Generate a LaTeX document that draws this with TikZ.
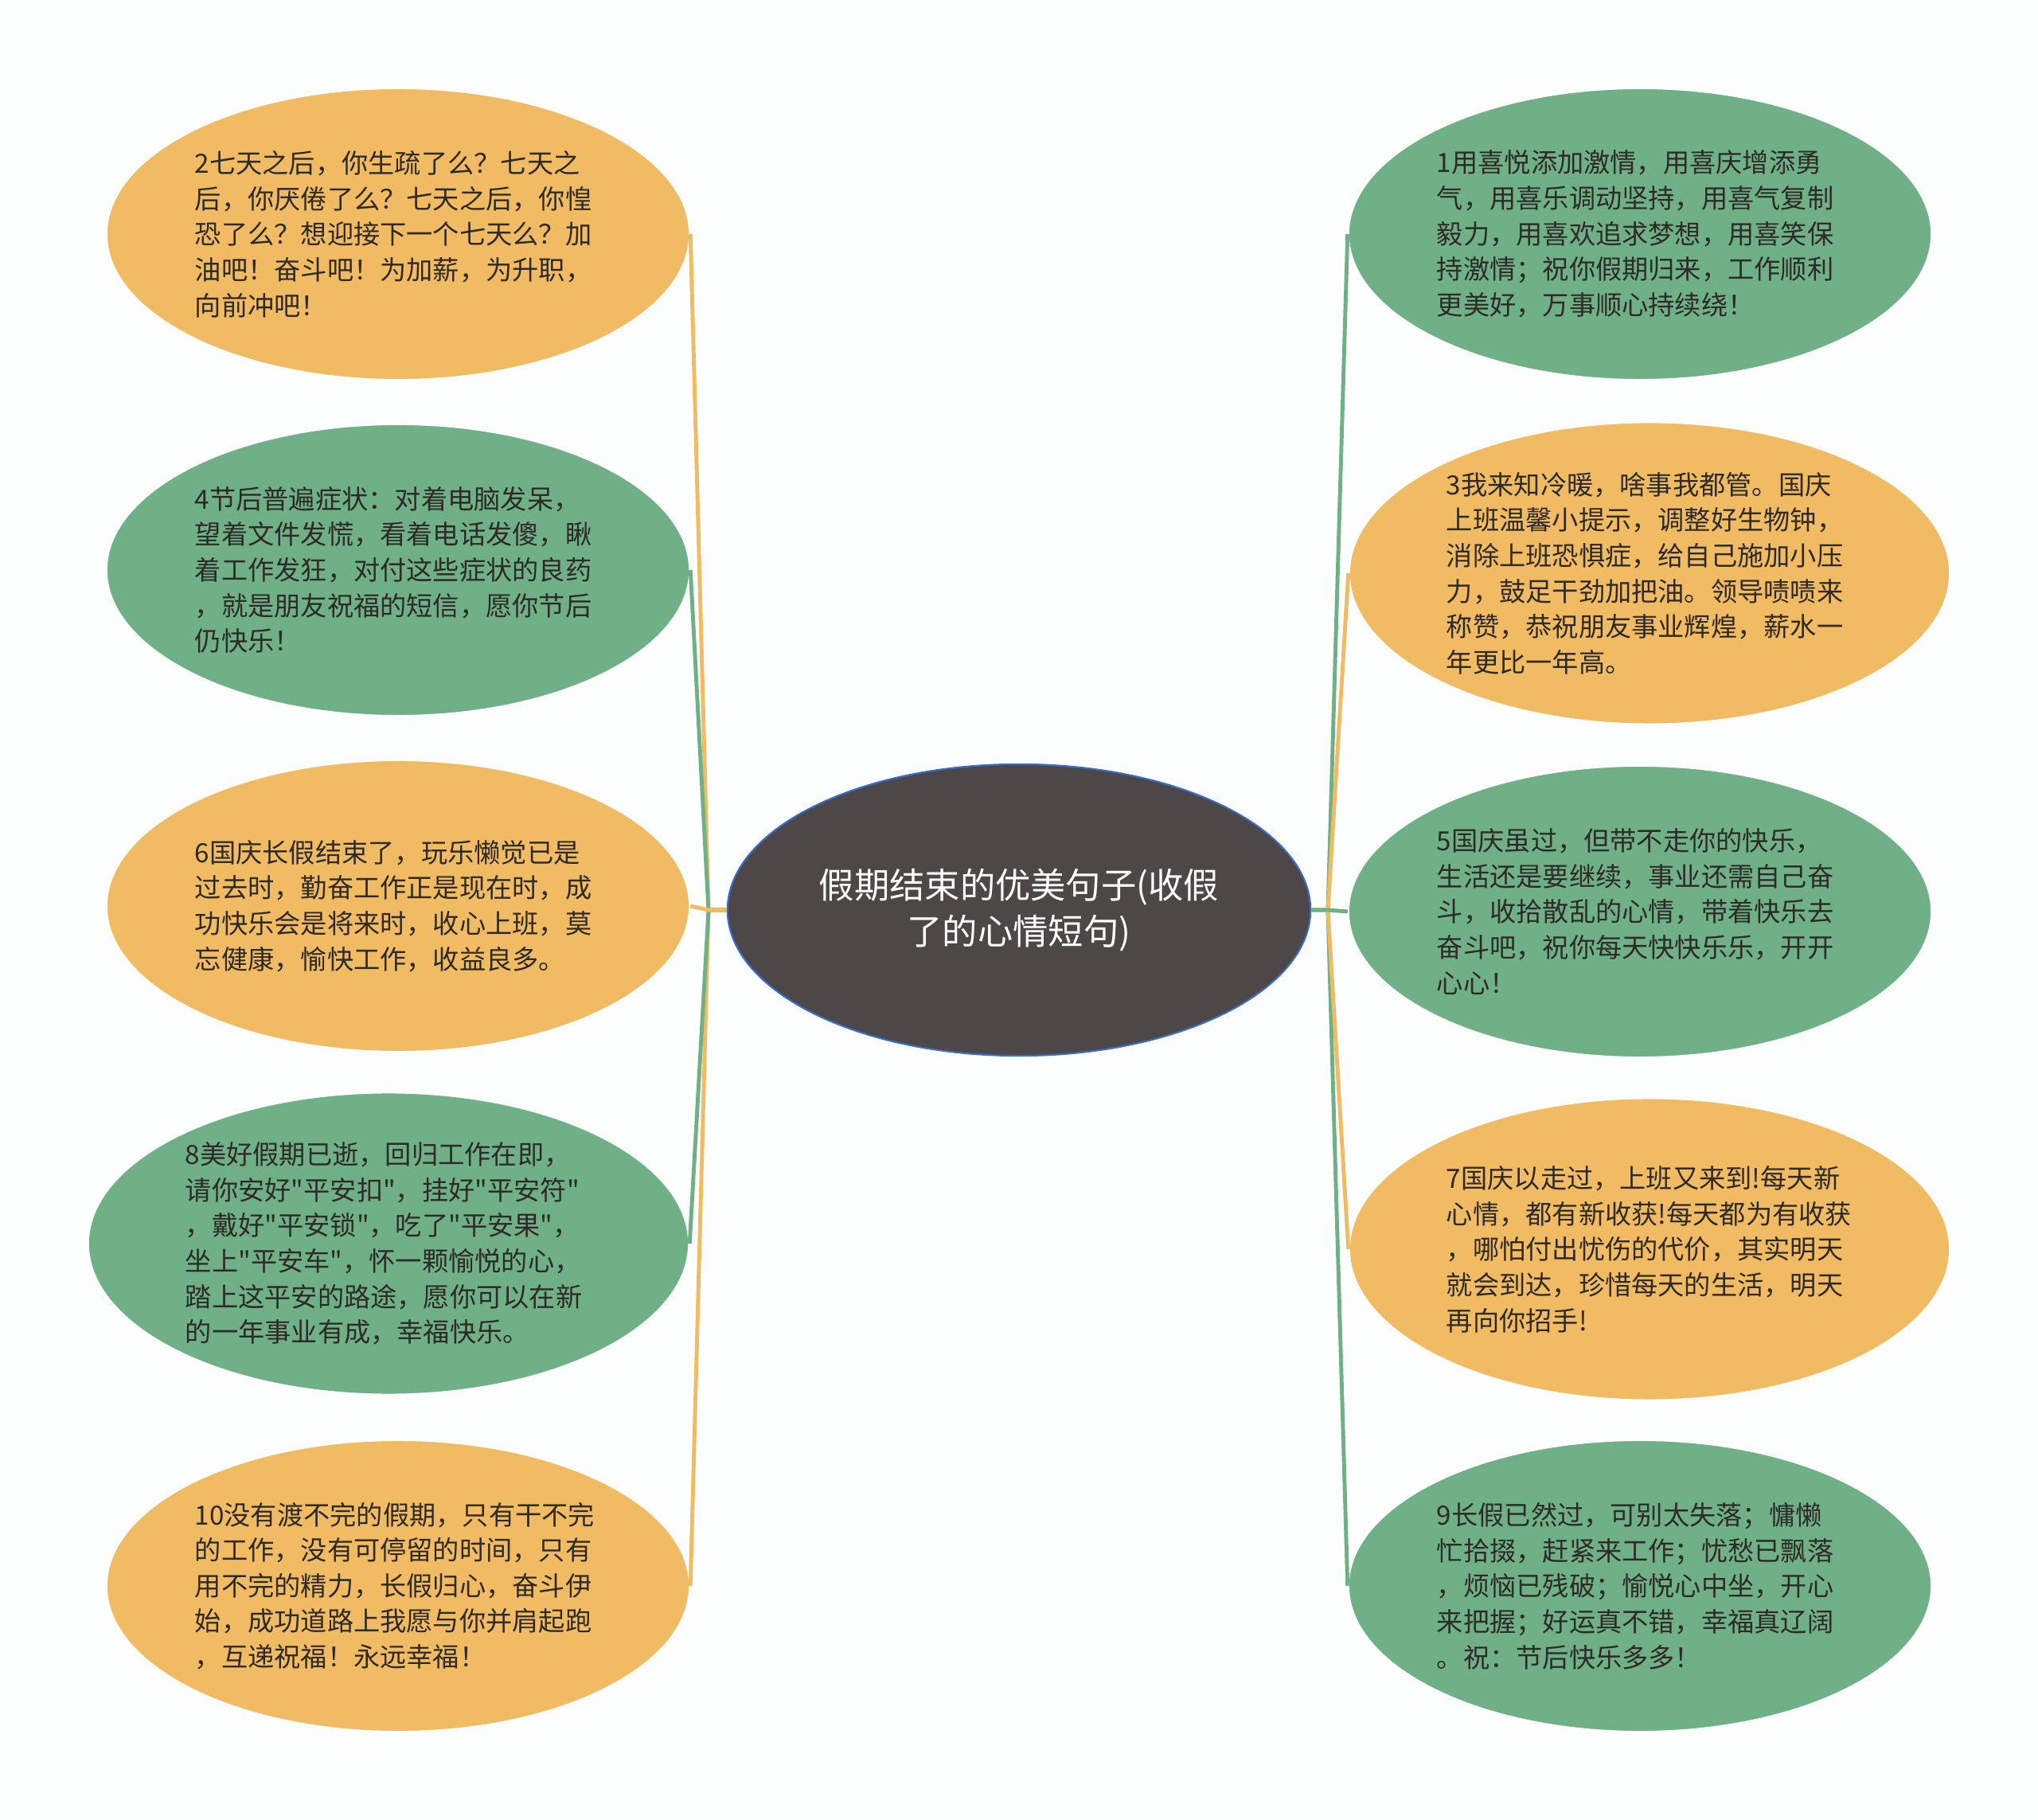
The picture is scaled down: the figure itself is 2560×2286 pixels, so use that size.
\documentclass[tikz,border=0pt]{standalone}
\usepackage{fontspec}
\newfontfamily\cjkfont{Noto Sans CJK SC}
\usetikzlibrary{shapes.geometric}
\definecolor{holidayorange}{RGB}{240,187,98}
\definecolor{holidaygreen}{RGB}{111,176,134}
\definecolor{rootgray}{RGB}{77,71,72}
\definecolor{rootblue}{RGB}{58,108,200}
\definecolor{inktext}{RGB}{45,42,40}
\definecolor{paper}{RGB}{251,254,253}
\tikzset{
  branch/.style={line width=1.4pt},
  root/.style={ellipse,draw=rootblue,line width=0.6pt,fill=rootgray,text=white,
    font=\cjkfont\fontsize{12.6}{16.5}\selectfont,align=center,inner sep=0pt,
    minimum width=7.32cm,minimum height=3.66cm},
  leaf/.style={ellipse,draw=white,line width=0.6pt,text=inktext,
    font=\cjkfont\fontsize{9.45}{12.7}\selectfont,align=left,text width=5.1cm,inner sep=0pt,
    minimum width=7.32cm,minimum height=3.66cm},
  warmleaf/.style={leaf,fill=holidayorange},
  coolleaf/.style={leaf,fill=holidaygreen},
  bigleaf/.style={minimum width=7.54cm,minimum height=3.79cm}
}

\begin{document}
\begin{tikzpicture}[x=0.01cm,y=-0.01cm]
  % 中心主题与左右两列祝福语
  \fill[paper] (0,0) rectangle (2560,2286);
  \useasboundingbox (0,0) rectangle (2560,2286);

  \node[root] (root) at (1280,1143) {假期结束的优美句子(收假\\了的心情短句)};

  \node[warmleaf] (n2) at (500,294) {2七天之后，你生疏了么？七天之\\后，你厌倦了么？七天之后，你惶\\恐了么？想迎接下一个七天么？加\\油吧！奋斗吧！为加薪，为升职，\\向前冲吧！};
  \node[coolleaf] (n4) at (500,716) {4节后普遍症状：对着电脑发呆，\\望着文件发慌，看着电话发傻，瞅\\着工作发狂，对付这些症状的良药\\，就是朋友祝福的短信，愿你节后\\仍快乐！};
  \node[warmleaf] (n6) at (500,1138) {6国庆长假结束了，玩乐懒觉已是\\过去时，勤奋工作正是现在时，成\\功快乐会是将来时，收心上班，莫\\忘健康，愉快工作，收益良多。};
  \node[coolleaf,bigleaf] (n8) at (488,1562) {8美好假期已逝，回归工作在即，\\请你安好"平安扣"，挂好"平安符"\\，戴好"平安锁"，吃了"平安果"，\\坐上"平安车"，怀一颗愉悦的心，\\踏上这平安的路途，愿你可以在新\\的一年事业有成，幸福快乐。};
  \node[warmleaf] (n10) at (500,1992) {10没有渡不完的假期，只有干不完\\的工作，没有可停留的时间，只有\\用不完的精力，长假归心，奋斗伊\\始，成功道路上我愿与你并肩起跑\\，互递祝福！永远幸福！};

  \node[coolleaf] (n1) at (2060,294) {1用喜悦添加激情，用喜庆增添勇\\气，用喜乐调动坚持，用喜气复制\\毅力，用喜欢追求梦想，用喜笑保\\持激情；祝你假期归来，工作顺利\\更美好，万事顺心持续绕！};
  \node[warmleaf,bigleaf] (n3) at (2072,720) {3我来知冷暖，啥事我都管。国庆\\上班温馨小提示，调整好生物钟，\\消除上班恐惧症，给自己施加小压\\力，鼓足干劲加把油。领导啧啧来\\称赞，恭祝朋友事业辉煌，薪水一\\年更比一年高。};
  \node[coolleaf] (n5) at (2060,1145) {5国庆虽过，但带不走你的快乐，\\生活还是要继续，事业还需自己奋\\斗，收拾散乱的心情，带着快乐去\\奋斗吧，祝你每天快快乐乐，开开\\心心！};
  \node[warmleaf,bigleaf] (n7) at (2072,1569) {7国庆以走过，上班又来到!每天新\\心情，都有新收获!每天都为有收获\\，哪怕付出忧伤的代价，其实明天\\就会到达，珍惜每天的生活，明天\\再向你招手!};
  \node[coolleaf] (n9) at (2060,1992) {9长假已然过，可别太失落；慵懒\\忙拾掇，赶紧来工作；忧愁已飘落\\，烦恼已残破；愉悦心中坐，开心\\来把握；好运真不错，幸福真辽阔\\。祝：节后快乐多多！};

  \coordinate (jl) at (890,1143);
  \coordinate (jr) at (1668,1143);

  \foreach \n/\c in {n2/holidayorange,n4/holidaygreen,n10/holidayorange,n8/holidaygreen,n6/holidayorange}{
    \draw[branch,draw=\c] (root.west) -- (jl) -- (\n.east);
  }
  \foreach \n/\c in {n1/holidaygreen,n3/holidayorange,n9/holidaygreen,n7/holidayorange,n5/holidaygreen}{
    \draw[branch,draw=\c] (root.east) -- (jr) -- (\n.west);
  }
\end{tikzpicture}
\end{document}
